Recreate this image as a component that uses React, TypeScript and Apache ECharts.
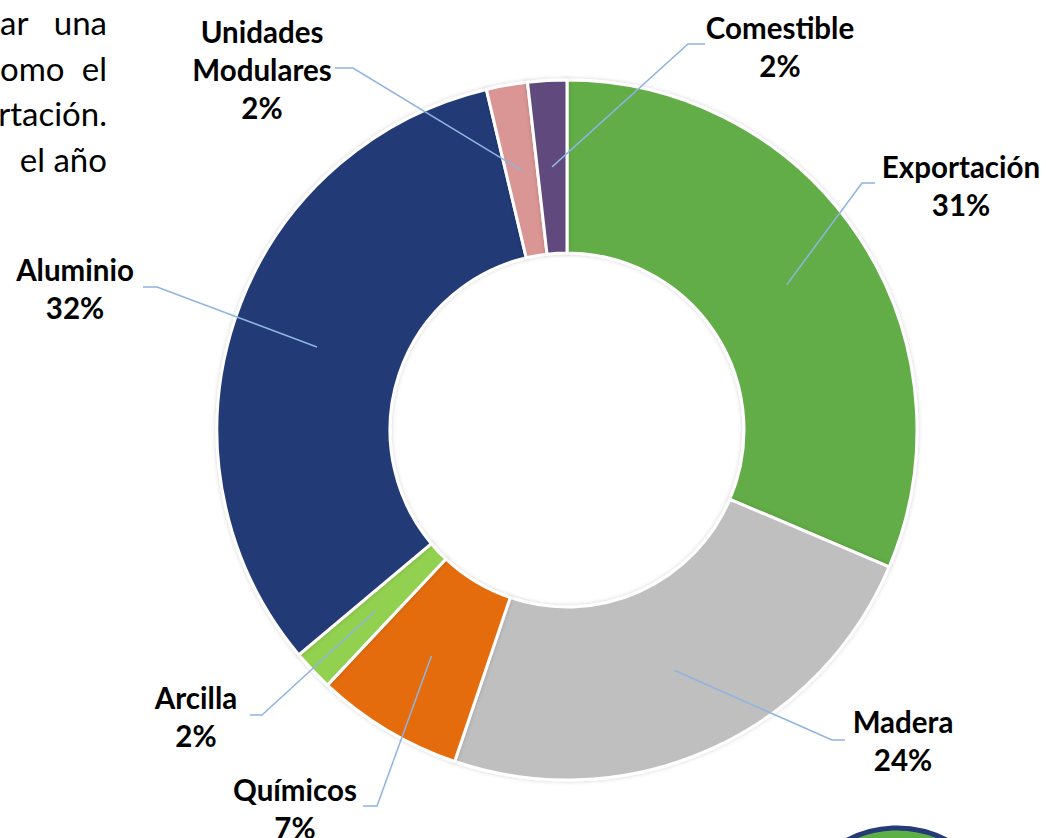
import React, { useEffect, useRef } from "react";
import * as echarts from "echarts";

const categories = ["Exportación", "Madera", "Químicos", "Arcilla", "Aluminio", "Unidades Modulares", "Comestible"];
const values = [31.4, 23.8, 6.8, 1.9, 32.4, 1.9, 1.8];
const colors = ["#62ad47", "#bfbfbf", "#e46c0a", "#92d050", "#243b77", "#d99694", "#604a7b"];

// layout of labels: centre of label block, elbow of leader line, end of leader line
const labelPos = [[961, 185], [903, 740], [295, 808], [196, 716], [75, 288], [262, 69], [780, 46]];
const elbowPos = [[862, 183], [832, 740], [377, 806], [262, 715], [157, 287], [353, 68], [688, 44]];
const endPos = [[875, 183], [845, 740], [363, 806], [250, 715], [143, 287], [335, 68], [705, 44]];

const CX = 567;
const CY = 430;
const R_IN = 177;
const R_OUT = 350;

export default function App() {
  const ref = useRef<HTMLDivElement>(null);
  useEffect(() => {
    if (!ref.current) return;
    const chart = echarts.init(ref.current, null, { renderer: "svg" });
    const total = values.reduce((a, b) => a + b, 0);
    const mids: number[] = [];
    let acc = 0;
    values.forEach((v) => {
      const a0 = (acc / total) * 360;
      acc += v;
      const a1 = (acc / total) * 360;
      mids.push((a0 + a1) / 2);
    });
    const rm = (R_IN + R_OUT) / 2;
    const pieData = categories.map((c, i) => ({ name: c, value: values[i], itemStyle: { color: colors[i] } }));
    const paraFont = "33px Lato";
    chart.setOption({
      animation: false,
      backgroundColor: "#ffffff",
      graphic: [
        { type: "text", style: { text: "ar", x: 0, y: 22, fill: "#000", font: paraFont, textAlign: "left", textVerticalAlign: "middle" } },
        { type: "text", style: { text: "una", x: 107, y: 22, fill: "#000", font: paraFont, textAlign: "right", textVerticalAlign: "middle" } },
        { type: "text", style: { text: "omo", x: 0, y: 68, fill: "#000", font: paraFont, textAlign: "left", textVerticalAlign: "middle" } },
        { type: "text", style: { text: "el", x: 107, y: 68, fill: "#000", font: paraFont, textAlign: "right", textVerticalAlign: "middle" } },
        { type: "text", style: { text: "rtación.", x: 107, y: 113, fill: "#000", font: paraFont, textAlign: "right", textVerticalAlign: "middle" } },
        { type: "text", style: { text: "el año", x: 107, y: 159, fill: "#000", font: paraFont, textAlign: "right", textVerticalAlign: "middle" } },
        { type: "circle", shape: { cx: 897, cy: 936, r: 108 }, style: { fill: "#5cb046", stroke: "#243b77", lineWidth: 5 } },
      ],
      series: [
        {
          type: "pie",
          z: 2,
          center: [CX, CY],
          radius: [R_IN, R_OUT],
          startAngle: 90,
          clockwise: true,
          avoidLabelOverlap: false,
          data: pieData,
          itemStyle: {
            borderColor: "#ffffff",
            borderWidth: 3,
            shadowBlur: 4,
            shadowColor: "rgba(0,0,0,0.18)",
          },
          label: { show: false },
          labelLine: { show: false },
          emphasis: { disabled: true },
          silent: true,
        },
        {
          type: "pie",
          z: 5,
          center: [CX, CY],
          radius: [R_IN, R_OUT],
          startAngle: 90,
          clockwise: true,
          avoidLabelOverlap: false,
          data: categories.map((c, i) => ({ name: c, value: values[i] })),
          itemStyle: { color: "rgba(0,0,0,0)", borderWidth: 0 },
          label: {
            show: true,
            position: "outside",
            formatter: (p: any) => `${p.name.replace(" ", "\n")}\n${Math.round(p.percent)}%`,
            color: "#000",
            fontFamily: "Lato",
            fontWeight: "bold",
            fontSize: 29.5,
            lineHeight: 38,
            align: "center",
          },
          labelLine: {
            show: true,
            showAbove: true,
            smooth: false,
            lineStyle: { color: "#8eb4e0", width: 1.5 },
          },
          labelLayout: (params: any) => {
            const i = params.dataIndex;
            const th = (mids[i] * Math.PI) / 180;
            const sx = CX + rm * Math.sin(th);
            const sy = CY - rm * Math.cos(th);
            return {
              x: labelPos[i][0],
              y: labelPos[i][1],
              align: "center",
              verticalAlign: "middle",
              labelLinePoints: [[sx, sy], elbowPos[i], endPos[i]],
            };
          },
          emphasis: { disabled: true },
          silent: true,
        },
      ],
    });
    return () => chart.dispose();
  }, []);
  return (
    <div
      ref={ref}
      style={{ position: "fixed", left: 0, top: 0, width: 1046, height: 838, background: "#fff" }}
    />
  );
}
